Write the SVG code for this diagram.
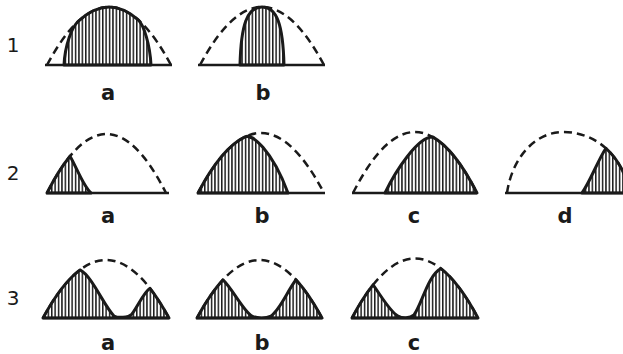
<svg xmlns="http://www.w3.org/2000/svg" width="623" height="354" viewBox="0 0 623 354">
<defs>
<pattern id="hatch" patternUnits="userSpaceOnUse" width="3.4" height="10">
<rect x="0" y="0" width="1.5" height="10" fill="#1a1a1a"/>
</pattern>
</defs>
<style>
.base{stroke:#1a1a1a;stroke-width:2.5;fill:none}
.dash{stroke:#1a1a1a;stroke-width:2.5;fill:none;stroke-dasharray:8 5}
.solid{stroke:#1a1a1a;stroke-width:3;fill:url(#hatch);stroke-linejoin:round}
.lbl{font-family:"DejaVu Sans",sans-serif;font-weight:bold;font-size:21px;text-anchor:middle;fill:#1a1a1a}
.num{font-family:"DejaVu Sans",sans-serif;font-size:20px;text-anchor:middle;fill:#1a1a1a}
</style>
<rect width="623" height="354" fill="#fff"/>
<g id="row-numbers">
<text class="num" x="13" y="52">1</text>
<text class="num" x="13" y="180">2</text>
<text class="num" x="13" y="305">3</text>
</g>
<g id="fig-1a">
<path class="dash" d="M47 65 Q109 -51 171 65"/>
<path class="solid" d="M64 65 C65 45 72 27.1 78 21.5 Q108 -6.55 138 19.7 C144 25 150 45 151 65 Z"/>
<path class="base" d="M45 65 H172"/>
<text class="lbl" x="108" y="100">a</text>
</g>
<g id="fig-1b">
<path class="dash" d="M200 65 Q262 -51 324 65"/>
<path class="solid" d="M240 65 C241 25 247 7 262 7 C277 7 283 25 284 65 Z"/>
<path class="base" d="M198 65 H325"/>
<text class="lbl" x="263" y="100">b</text>
</g>
<g id="fig-2a">
<path class="dash" d="M47 193 Q106.5 75 166 193"/>
<path class="solid" d="M47 193 Q58.5 170.2 70 156.2 C76 166 83 186 91 193 Z"/>
<path class="base" d="M46 193 H169"/>
<text class="lbl" x="108" y="223">a</text>
</g>
<g id="fig-2b">
<path class="dash" d="M198 193 Q261 73 324 193"/>
<path class="solid" d="M198 193 Q221.5 148.2 245 136.9 C252 133.5 272 150 288 193 Z"/>
<path class="base" d="M197 193 H325"/>
<text class="lbl" x="262" y="223">b</text>
</g>
<g id="fig-2c">
<path class="dash" d="M353 193 Q415 71 477 193"/>
<path class="solid" d="M385 193 C395 172 418 136 433 137.1 Q455 149.7 477 193 Z"/>
<path class="base" d="M352 193 H477"/>
<text class="lbl" x="414" y="223">c</text>
</g>
<g id="fig-2d">
<path class="dash" d="M507 193 C512 158 535 132 563 132 C596 132 622 155 630 193"/>
<path class="solid" d="M582 193 C590 182 598 160 605.9 148.25 C617.5 158.75 626 174 630 193 Z"/>
<path class="base" d="M505 193 H623"/>
<text class="lbl" x="565" y="223">d</text>
</g>
<g id="fig-3a">
<path class="dash" d="M43 318 Q106 202 169 318"/>
<path class="solid" d="M43 318 Q61.5 283.9 80 269.9 C92 276 104 306 114 316 C118 318 128 318 132 314 C138 306 144 292 150 288.3 Q159.5 300.5 169 318 Z"/>
<path class="base" d="M43 318 H169"/>
<text class="lbl" x="108" y="350">a</text>
</g>
<g id="fig-3b">
<path class="dash" d="M197 318 Q259.5 202 322 318"/>
<path class="solid" d="M197 318 Q210 293.9 223 279.8 C232 288 244 312 252 316 C257 318.5 266 318.5 271 316 C280 310 288 290 296 279.8 Q309 293.9 322 318 Z"/>
<path class="base" d="M196 318 H322"/>
<text class="lbl" x="262" y="350">b</text>
</g>
<g id="fig-3c">
<path class="dash" d="M352 318 Q415 199 478 318"/>
<path class="solid" d="M352 318 Q362.5 298.17 373 284.94 C380 294 390 312 398 316 C402 318.5 410 318.5 414 315 C422 304 428 275 441 268.63 Q459.5 283.05 478 318 Z"/>
<path class="base" d="M351 318 H478"/>
<text class="lbl" x="414" y="350">c</text>
</g>
<g id="connectors"/>
</svg>
